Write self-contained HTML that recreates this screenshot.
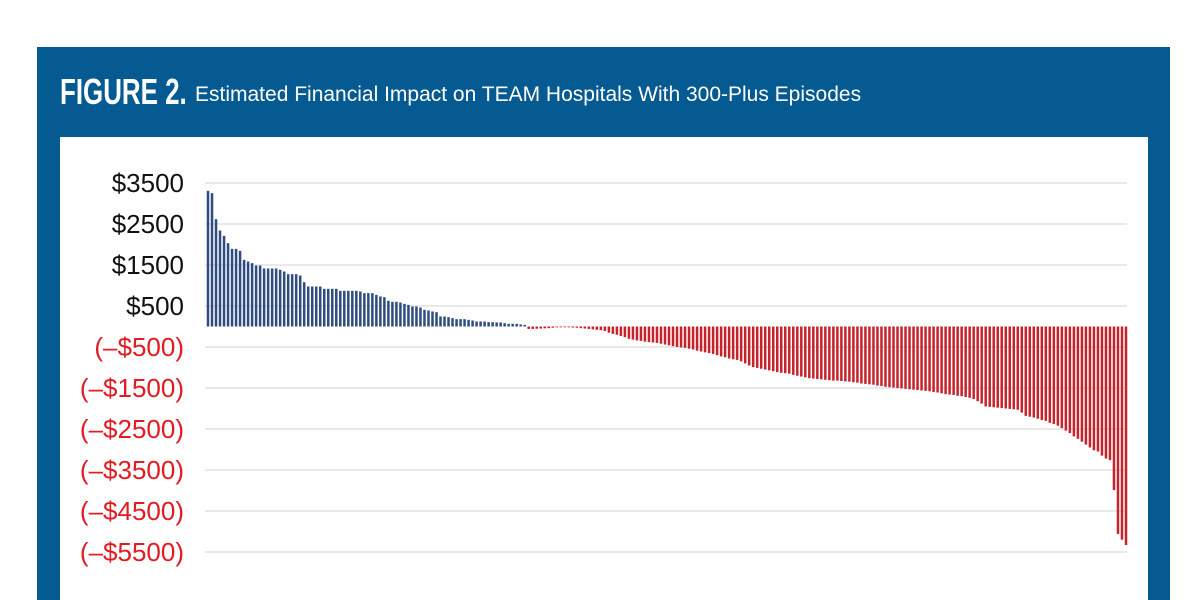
<!DOCTYPE html>
<html><head><meta charset="utf-8"><style>
body{margin:0;width:1200px;height:600px;background:#fff;overflow:hidden;font-family:"Liberation Sans",sans-serif}
#panel{position:absolute;left:37px;top:47px;width:1133px;height:553px;background:#045a91}
#fig{position:absolute;left:60px;top:71px;font-family:"Liberation Sans Narrow","Liberation Sans",sans-serif;font-weight:bold;font-size:36px;color:#fff;transform:scaleX(0.72);transform-origin:left top;white-space:nowrap}
#sub{position:absolute;left:195px;top:83px;font-size:21px;color:#fff;white-space:nowrap}
#inner{position:absolute;left:60px;top:137px;width:1088px;height:463px;background:#fff}
svg{position:absolute;left:0;top:0}
</style></head><body>
<div id="panel"></div>
<div id="fig">FIGURE 2.</div>
<div id="sub">Estimated Financial Impact on TEAM Hospitals With 300-Plus Episodes</div>
<div id="inner"></div>
<svg id="chart" width="1200" height="600"></svg>
<script>
const tickValues=[3500,2500,1500,500,-500,-1500,-2500,-3500,-4500,-5500];
const tickLabels=["$3500","$2500","$1500","$500","(–$500)","(–$1500)","(–$2500)","(–$3500)","(–$4500)","(–$5500)"];
const positiveValues=[3309,3252,2618,2341,2211,2033,1894,1894,1846,1626,1585,1545,1488,1488,1415,1415,1415,1415,1382,1341,1276,1276,1276,1244,1081,976,976,976,976,919,919,919,919,870,870,870,870,870,854,813,813,813,772,732,715,626,602,602,585,553,528,488,488,463,407,390,366,350,244,244,228,203,179,179,179,163,146,122,122,122,106,106,98,98,81,65,65,65,50,40];
const negativeValues=[-60,-60,-55,-50,-45,-40,-30,-20,-10,
-15,-20,-25,-30,-40,-50,-60,-70,-80,-90,-110,
-150,-180,-200,-230,-260,
-300,-320,-340,-350,-370,-380,-390,-400,
-420,-440,-460,-480,-500,-510,-520,
-540,-560,-590,-610,-630,-650,
-670,-700,-730,-750,-780,-800,-815,
-850,-900,-950,-990,-1010,-1030,
-1050,-1070,-1090,-1110,-1130,-1140,-1150,
-1180,-1200,-1220,-1240,-1260,-1270,-1280,
-1290,-1300,-1310,-1320,-1320,-1330,-1340,-1345,
-1360,-1370,-1390,-1400,-1410,-1420,-1440,-1450,-1470,
-1480,-1490,-1500,-1510,-1520,-1530,-1540,-1550,
-1560,-1570,-1580,-1600,-1610,-1630,-1650,-1660,
-1670,-1690,-1700,-1720,-1740,-1770,-1820,
-1880,-1950,-1960,-1970,-1980,-1990,-2000,
-2010,-2020,-2030,-2100,-2180,-2200,-2220,
-2250,-2280,-2300,-2350,-2380,-2420,-2480,
-2540,-2600,-2680,-2740,-2810,-2880,-2950,
-3020,-3050,-3150,-3220,-3260,
-3990,-5060,-5200,-5330];
const NS="http://www.w3.org/2000/svg";
const svg=document.getElementById('chart');
const values=positiveValues.concat(negativeValues);
const y0=326.5, pxPer=0.041;
function yScale(v){return y0-v*pxPer;}
const xL=208,xR=1126,n=values.length,step=(xR-xL)/(n-1);
function xScale(i){return xL+i*step;}
tickValues.forEach((t,i)=>{
  const y=yScale(t);
  const l=document.createElementNS(NS,'line');
  l.setAttribute('x1',205);l.setAttribute('x2',1127);l.setAttribute('y1',y);l.setAttribute('y2',y);
  l.setAttribute('stroke','#e2e2e2');l.setAttribute('stroke-width','1.5');
  
  
  svg.appendChild(l);
  const tx=document.createElementNS(NS,'text');
  tx.setAttribute('x',184);tx.setAttribute('y',y+9);tx.setAttribute('text-anchor','end');
  tx.setAttribute('font-size','26');tx.setAttribute('font-family','Liberation Sans, sans-serif');
  tx.setAttribute('fill',t<0?'#e21b23':'#111');
  tx.textContent=tickLabels[i];
  
  
  svg.appendChild(tx);
});
values.forEach((v,i)=>{
  const r=document.createElementNS(NS,'rect');
  const y=yScale(v);
  r.setAttribute('x',xScale(i)-1.25);r.setAttribute('width',2.5);
  r.setAttribute('y',Math.min(y,y0));r.setAttribute('height',Math.max(0.8,Math.abs(y-y0)));
  r.setAttribute('fill',v>=0?'#2e4c7f':'#c8222b');
  
  
  svg.appendChild(r);
});
</script>
</body></html>
